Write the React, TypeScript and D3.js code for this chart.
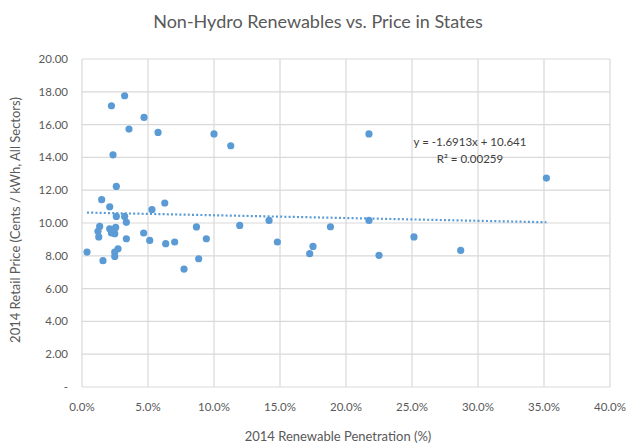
import React, { useEffect, useRef } from 'react';
import * as d3 from 'd3';

// 2014 renewable penetration (%) and retail price (cents/kWh) per state
const penetration = [
  3.23, 2.23, 4.70, 3.56, 5.76, 10.0, 11.27, 2.35, 2.6, 1.49, 2.1, 6.27, 5.3, 2.6, 3.23,
  3.36, 1.34, 1.21, 1.27, 2.1, 2.55, 2.23, 2.48, 8.67, 11.95, 4.67, 3.36, 5.13, 6.34, 7.02,
  9.42, 0.38, 2.73, 2.48, 2.48, 1.59, 8.84, 7.73, 14.17, 14.8, 18.82, 17.5, 17.25, 21.74,
  21.74, 22.5, 35.18, 25.15, 28.69,
];
const price = [
  17.76, 17.15, 16.44, 15.73, 15.52, 15.43, 14.71, 14.16, 12.23, 11.42, 10.99, 11.22, 10.81, 10.4, 10.4,
  10.04, 9.79, 9.49, 9.15, 9.65, 9.73, 9.39, 9.35, 9.76, 9.85, 9.39, 9.04, 8.94, 8.74, 8.84,
  9.04, 8.23, 8.43, 8.23, 7.96, 7.7, 7.82, 7.19, 10.16, 8.84, 9.77, 8.57, 8.13, 15.43,
  10.16, 8.03, 12.74, 9.15, 8.33,
];
const xTicks = [0, 5, 10, 15, 20, 25, 30, 35, 40];
const yTicks = [0, 2, 4, 6, 8, 10, 12, 14, 16, 18, 20];
const slope = -1.6913;
const intercept = 10.641;
const equation = 'y = -1.6913x + 10.641';
const rSquared = 'R² = 0.00259';

const App = () => {
  const svgRef = useRef<SVGSVGElement>(null);

  useEffect(() => {
    if (!svgRef.current) return;
    const svg = d3.select(svgRef.current);
    svg.selectAll('*').remove();

    const width = 631;
    const height = 447;
    const margin = { top: 59, right: 21, bottom: 60, left: 82 };
    const font = 'Lato, "Open Sans", sans-serif';
    const blue = '#5B9BD5';

    const x = d3.scaleLinear().domain([0, 40]).range([margin.left, width - margin.right]);
    const y = d3.scaleLinear().domain([0, 20]).range([height - margin.bottom, margin.top]);

    svg.append('rect').attr('width', width).attr('height', height).attr('fill', '#fff');

    // gridlines
    svg.append('g').selectAll('line').data(yTicks).join('line')
      .attr('x1', x(0)).attr('x2', x(40))
      .attr('y1', (d) => y(d)).attr('y2', (d) => y(d))
      .attr('stroke', '#d9d9d9').attr('stroke-width', 1.2);
    svg.append('g').selectAll('line').data(xTicks).join('line')
      .attr('x1', (d) => x(d)).attr('x2', (d) => x(d))
      .attr('y1', y(0)).attr('y2', y(20))
      .attr('stroke', '#d9d9d9').attr('stroke-width', 1.2);

    // tick labels
    svg.append('g').selectAll('text').data(yTicks).join('text')
      .attr('x', x(0) - 14).attr('y', (d) => y(d) + 4)
      .attr('text-anchor', 'end')
      .attr('font-family', font).attr('font-size', 11.5).attr('fill', '#595959')
      .text((d) => (d === 0 ? '-' : d.toFixed(2)));
    svg.append('g').selectAll('text').data(xTicks).join('text')
      .attr('x', (d) => x(d)).attr('y', y(0) + 24)
      .attr('text-anchor', 'middle')
      .attr('font-family', font).attr('font-size', 11.5).attr('fill', '#595959')
      .text((d) => d.toFixed(1) + '%');

    // trendline (linear, dotted) across the data range
    const xMin = d3.min(penetration) as number;
    const xMax = d3.max(penetration) as number;
    svg.append('line')
      .attr('x1', x(xMin)).attr('x2', x(xMax))
      .attr('y1', y(slope * xMin / 100 + intercept))
      .attr('y2', y(slope * xMax / 100 + intercept))
      .attr('stroke', blue).attr('stroke-width', 2.2)
      .attr('stroke-dasharray', '2,2.2');

    // points
    svg.append('g').selectAll('circle').data(penetration).join('circle')
      .attr('cx', (d) => x(d)).attr('cy', (_d, i) => y(price[i]))
      .attr('r', 3.6).attr('fill', blue);

    // equation label
    svg.append('text')
      .attr('x', 470).attr('y', 146)
      .attr('text-anchor', 'middle')
      .attr('font-family', font).attr('font-size', 11.5).attr('fill', '#404040')
      .text(equation);
    svg.append('text')
      .attr('x', 470).attr('y', 163)
      .attr('text-anchor', 'middle')
      .attr('font-family', font).attr('font-size', 11.5).attr('fill', '#404040')
      .text(rSquared);

    // title
    svg.append('text')
      .attr('x', 318).attr('y', 28)
      .attr('text-anchor', 'middle')
      .attr('font-family', font).attr('font-size', 18).attr('fill', '#595959')
      .text('Non-Hydro Renewables vs. Price in States');

    // axis titles
    svg.append('text')
      .attr('x', 338).attr('y', 441)
      .attr('text-anchor', 'middle')
      .attr('font-family', font).attr('font-size', 13).attr('fill', '#595959')
      .text('2014 Renewable Penetration (%)');
    svg.append('text')
      .attr('transform', `translate(20, 220) rotate(-90)`)
      .attr('text-anchor', 'middle')
      .attr('font-family', font).attr('font-size', 13).attr('fill', '#595959')
      .text('2014 Retail Price (Cents / kWh, All Sectors)');
  }, []);

  return (
    <div style={{ position: 'absolute', left: 0, top: 0 }}>
      <svg ref={svgRef} width={631} height={447} style={{ display: 'block' }}></svg>
    </div>
  );
};

export default App;
